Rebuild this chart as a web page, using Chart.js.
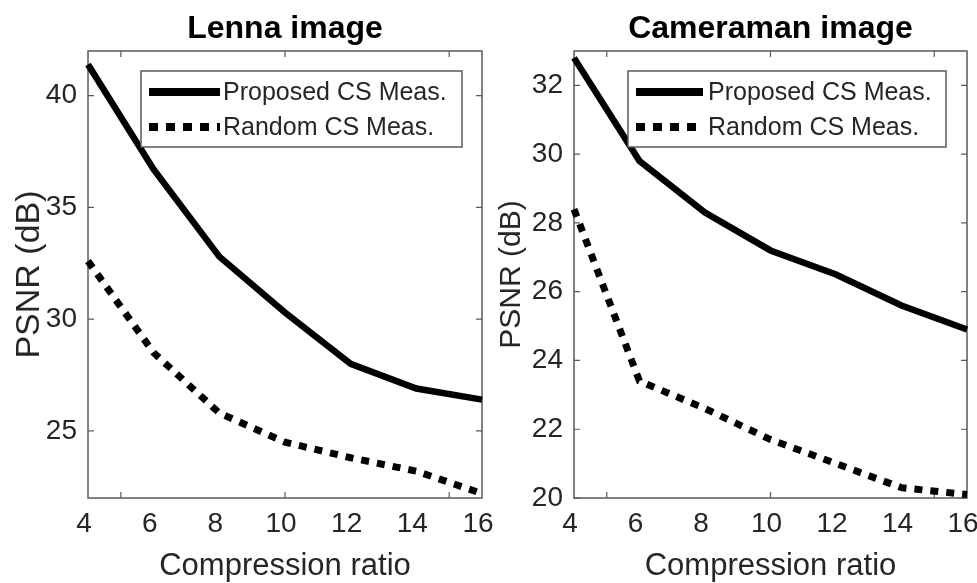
<!DOCTYPE html>
<html>
<head>
<meta charset="utf-8">
<script src="https://cdn.jsdelivr.net/npm/chart.js@4.4.1/dist/chart.umd.min.js"></script>
<style>
  html, body { margin: 0; padding: 0; background: #ffffff; }
  #wrap { position: relative; width: 977px; height: 583px; overflow: hidden; background: #fff; }
  .panel { position: absolute; top: 0; height: 583px; }
  #p1 { left: 0; width: 510px; }
  #p2 { left: 487px; width: 490px; }
</style>
</head>
<body>
<div id="wrap">
  <div class="panel" id="p1"><canvas id="c1" width="510" height="583"></canvas></div>
  <div class="panel" id="p2"><canvas id="c2" width="490" height="583"></canvas></div>
</div>
<script>
// ---------- data ----------
const compressionRatios = [4, 6, 8, 10, 12, 14, 16];
const xTickLabels = [4, 6, 8, 10, 12, 14, 16];
const xInnerTicks = [5, 10, 15];

const lennaTitle = "Lenna image";
const lennaProposed = [41.4, 36.7, 32.8, 30.3, 28.0, 26.9, 26.4];
const lennaRandom   = [32.6, 28.5, 25.8, 24.5, 23.8, 23.2, 22.2];
const lennaYTicks = [25, 30, 35, 40];

const cameramanTitle = "Cameraman image";
const cameramanProposed = [32.8, 29.8, 28.3, 27.2, 26.5, 25.6, 24.9];
const cameramanRandom   = [28.4, 23.4, 22.6, 21.7, 21.0, 20.3, 20.1];
const cameramanYTicks = [20, 22, 24, 26, 28, 30, 32];

const seriesNames = ["Proposed CS Meas.", "Random CS Meas."];
const xAxisTitle = "Compression ratio";
const yAxisTitle = "PSNR (dB)";

// ---------- plugins ----------
const framePlugin = {
  id: 'frame',
  beforeDatasetsDraw(chart, args, opts) {
    const { ctx, chartArea: { left, right, top, bottom }, scales: { x, y } } = chart;
    ctx.save();
    ctx.strokeStyle = '#5a5a5a';
    ctx.lineWidth = 1.5;
    ctx.strokeRect(left, top, right - left, bottom - top);
    ctx.lineWidth = 1.2;
    const L = 6;
    ctx.beginPath();
    (opts.xTicks || []).forEach(v => {
      const px = x.getPixelForValue(v);
      ctx.moveTo(px, top); ctx.lineTo(px, top + L);
      ctx.moveTo(px, bottom); ctx.lineTo(px, bottom - L);
    });
    y.ticks.forEach(t => {
      const py = y.getPixelForValue(t.value);
      ctx.moveTo(left, py); ctx.lineTo(left + L, py);
      ctx.moveTo(right, py); ctx.lineTo(right - L, py);
    });
    ctx.stroke();
    ctx.restore();
  },
  afterDraw(chart, args, opts) {
    const { ctx, chartArea: { left, right } } = chart;
    ctx.save();
    ctx.fillStyle = '#000';
    ctx.font = 'bold 32px "Liberation Sans", Arial, sans-serif';
    ctx.textAlign = 'center';
    ctx.textBaseline = 'middle';
    ctx.fillText(opts.title, (left + right) / 2, 29);
    ctx.restore();
  }
};

const legendPlugin = {
  id: 'boxLegend',
  afterDatasetsDraw(chart, args, opts) {
    const { ctx, chartArea: { left, top } } = chart;
    const bx = left + opts.offsetX, by = top + 20, bw = opts.width, bh = 76;
    ctx.save();
    ctx.fillStyle = '#ffffff';
    ctx.fillRect(bx, by, bw, bh);
    ctx.strokeStyle = '#5a5a5a';
    ctx.lineWidth = 1.5;
    ctx.strokeRect(bx, by, bw, bh);
    ctx.font = '25px "Liberation Sans", Arial, sans-serif';
    ctx.textBaseline = 'middle';
    ctx.fillStyle = '#262626';
    chart.data.datasets.forEach((ds, i) => {
      const ry = by + 21 + i * 35;
      const x0 = bx + 8, x1 = x0 + opts.lineLen;
      ctx.beginPath();
      ctx.strokeStyle = '#000';
      ctx.lineWidth = 8;
      ctx.lineCap = 'butt';
      ctx.setLineDash(i === 0 ? [] : [9, 8]);
      ctx.moveTo(x0, ry); ctx.lineTo(x1, ry);
      ctx.stroke();
      ctx.setLineDash([]);
      ctx.fillText(ds.label, x1 + opts.gap, ry + 1);
    });
    ctx.restore();
  }
};

function makeChart(canvasId, title, proposed, random, yMin, yMax, yTicks, cfg) {
  const toPts = arr => arr.map((v, i) => ({ x: compressionRatios[i], y: v }));
  return new Chart(document.getElementById(canvasId), {
    type: 'line',
    data: {
      datasets: [
        { label: seriesNames[0], data: toPts(proposed), borderColor: '#000', borderWidth: 6.5,
          pointRadius: 0, tension: 0, clip: false, borderJoinStyle: 'miter', borderCapStyle: 'butt' },
        { label: seriesNames[1], data: toPts(random), borderColor: '#000', borderWidth: 7,
          borderDash: [8, 8], pointRadius: 0, tension: 0, clip: false, borderCapStyle: 'butt' }
      ]
    },
    options: {
      responsive: false,
      animation: false,
      layout: { autoPadding: false, padding: { top: 51, right: cfg.padRight, left: 0, bottom: 0 } },
      plugins: {
        legend: { display: false },
        tooltip: { enabled: false },
        title: { display: false },
        frame: { title: title, xTicks: xInnerTicks },
        boxLegend: { offsetX: cfg.legX, width: cfg.legW, lineLen: cfg.lineLen, gap: cfg.gap }
      },
      scales: {
        x: {
          type: 'linear', min: 4, max: 16,
          afterBuildTicks: s => { s.ticks = xTickLabels.map(v => ({ value: v })); },
          afterFit: s => { s.height = 85; s.paddingLeft = 0; s.paddingRight = 0; },
          grid: { display: false, drawTicks: false },
          border: { display: false },
          ticks: { color: '#262626', padding: 9, maxRotation: 0, autoSkip: false, labelOffset: -4,
                   font: { family: '"Liberation Sans", Arial, sans-serif', size: 28 } },
          title: { display: true, text: xAxisTitle, color: '#262626',
                   font: { family: '"Liberation Sans", Arial, sans-serif', size: 31, lineHeight: 1 },
                   padding: { top: 0, bottom: 1 } }
        },
        y: {
          type: 'linear', min: yMin, max: yMax,
          afterBuildTicks: s => { s.ticks = yTicks.map(v => ({ value: v })); },
          afterFit: s => { s.width = cfg.yWidth; s.paddingTop = 0; s.paddingBottom = 0; },
          grid: { display: false, drawTicks: false },
          border: { display: false },
          ticks: { color: '#262626', padding: 11,
                   font: { family: '"Liberation Sans", Arial, sans-serif', size: 28 } },
          title: { display: true, text: yAxisTitle, color: '#262626',
                   font: { family: '"Liberation Sans", Arial, sans-serif', size: cfg.yTitleSize, lineHeight: 1.2 },
                   padding: { top: cfg.yTitlePad, bottom: 0 } }
        }
      }
    },
    plugins: [framePlugin, legendPlugin]
  });
}

makeChart('c1', lennaTitle, lennaProposed, lennaRandom, 22, 42, lennaYTicks,
  { padRight: 28, yWidth: 88, legX: 53, legW: 321, lineLen: 71, gap: 3, yTitleSize: 34, yTitlePad: 9 });
makeChart('c2', cameramanTitle, cameramanProposed, cameramanRandom, 20, 33, cameramanYTicks,
  { padRight: 10, yWidth: 87, legX: 54, legW: 318, lineLen: 67, gap: 5, yTitleSize: 30, yTitlePad: 7 });
</script>
</body>
</html>
